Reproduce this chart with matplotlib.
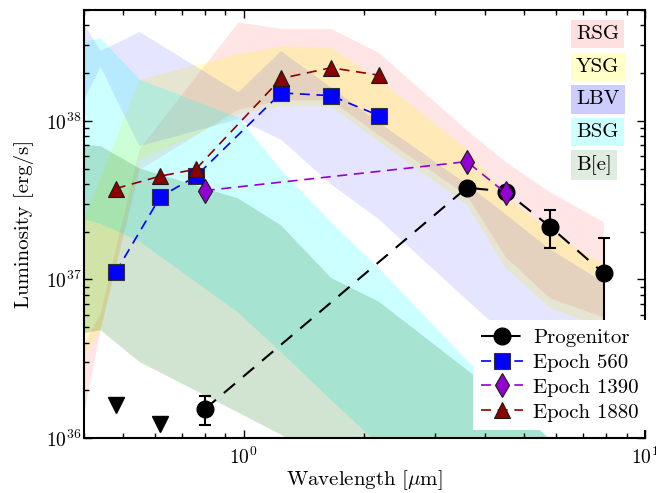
import numpy as np
import matplotlib
matplotlib.use('Agg')
from matplotlib import pyplot as plt

plt.rcParams['font.family'] = 'serif'
plt.rcParams['font.serif'] = ['cmr10']
plt.rcParams['mathtext.fontset'] = 'cm'
plt.rcParams['axes.formatter.use_mathtext'] = True
plt.rcParams['axes.unicode_minus'] = False

# photometry (wavelength in micron, luminosity in erg/s)
wl_epoch = [0.48, 0.62, 0.76, 1.24, 1.65, 2.17]
wl_prog = [0.80, 3.6, 4.5, 5.8, 7.9]
wl_1390 = [0.80, 3.6, 4.5]
wl_limit = [0.48, 0.62]

lum_prog = [1.52e36, 3.79e37, 3.58e37, 2.15e37, 1.09e37]
err_prog = [0.31e36, 0.0, 0.0, 0.58e37, 0.73e37]
lum_limit = [1.62e36, 1.23e36]
lum_560 = [1.11e37, 3.32e37, 4.46e37, 1.50e38, 1.44e38, 1.08e38]
lum_1390 = [3.63e37, 5.53e37, 3.50e37]
lum_1880 = [3.74e37, 4.48e37, 4.95e37, 1.85e38, 2.16e38, 1.94e38]

# SED ranges of comparison stars (log L)
wl_band = [0.40, 0.44, 0.55, 0.97, 1.24, 1.65, 2.17, 3.6, 4.5, 5.8, 7.9]
rsg_hi = [36.59, 36.78, 37.82, 38.62, 38.58, 38.58, 38.43, 37.94, 37.74, 37.55, 37.36]
rsg_lo = [36.15, 36.68, 37.69, 38.07, 38.13, 38.13, 37.91, 37.53, 37.14, 36.88, 36.76]
ysg_hi = [37.38, 37.64, 38.26, 38.42, 38.47, 38.46, 38.26, 37.82, 37.53, 37.30, 37.09]
ysg_lo = [36.52, 36.68, 37.75, 38.04, 38.09, 38.09, 37.87, 37.47, 37.07, 36.82, 36.69]
lbv_hi = [38.61, 38.44, 38.56, 38.18, 38.44, 38.21, 37.99, 37.60, 37.41, 37.19, 36.98]
lbv_lo = [38.13, 38.34, 37.84, 38.01, 37.88, 37.60, 37.38, 36.87, 36.65, 36.40, 36.11]
bsg_hi = [38.50, 38.52, 38.26, 38.02, 37.69, 37.36, 37.07, 36.49, 36.27, 35.99, 35.64]
bsg_lo = [37.38, 37.35, 37.24, 36.79, 36.54, 36.24, 35.96, 35.48, 35.23, 34.98, 34.66]
be_hi = [37.85, 37.84, 37.70, 37.51, 37.34, 37.01, 36.86, 36.43, 36.24, 35.99, 35.74]
be_lo = [36.66, 36.68, 36.48, 36.16, 36.02, 35.83, 35.64, 35.23, 35.04, 34.79, 34.47]

bands = [('RSG', rsg_lo, rsg_hi, 'red', 0.10, 0.12),
         ('YSG', ysg_lo, ysg_hi, 'yellow', 0.20, 0.22),
         ('LBV', lbv_lo, lbv_hi, 'blue', 0.10, 0.20),
         ('BSG', bsg_lo, bsg_hi, 'cyan', 0.20, 0.20),
         ('B[e]', be_lo, be_hi, 'darkgreen', 0.18, 0.12)]

fig = plt.figure(figsize=(6.56, 4.93), dpi=100)
ax = fig.add_axes([0.128, 0.1116, 0.8552, 0.8682])
ax.set_xscale('log')
ax.set_yscale('log')

for i, (name, lo, hi, col, a, a_box) in enumerate(bands):
    ax.fill_between(wl_band, 10**np.array(lo), 10**np.array(hi),
                    facecolor=col, alpha=a, linewidth=0, zorder=1)
    ax.text(0.877, 0.944 - i*0.0765, name, transform=ax.transAxes,
            ha='left', va='center', fontsize=15, zorder=5,
            bbox=dict(boxstyle='square,pad=0.25', fc=col, alpha=a_box, ec='none'))

ax.errorbar(wl_prog, lum_prog, yerr=err_prog, fmt='none', ecolor='k',
            elinewidth=1.5, capsize=4.5, capthick=1.5, zorder=3)
ax.plot(wl_prog, lum_prog, 'o', ls='--', dashes=(7, 5), color='k', lw=1.5,
        ms=12, mec='k', label='Progenitor', zorder=3)
ax.plot(wl_limit, lum_limit, 'v', ls='none', color='k', ms=12, zorder=3)
ax.plot(wl_epoch, lum_560, 's', ls='--', dashes=(6, 4), color='blue', lw=1.2,
        ms=11.5, mec='0.2', mew=0.8, label='Epoch 560', zorder=3)
ax.plot(wl_1390, lum_1390, 'd', ls='--', dashes=(6, 4), color='darkviolet', lw=1.2,
        ms=12, mec='0.1', mew=0.8, label='Epoch 1390', zorder=3)
ax.plot(wl_epoch, lum_1880, '^', ls='--', dashes=(6, 4), color='darkred', lw=1.2,
        ms=12, mec='0.1', mew=0.8, label='Epoch 1880', zorder=3)

ax.set_xlim(0.4, 10)
ax.set_ylim(1e36, 5e38)
ax.set_xlabel(r'Wavelength [$\mu$m]', fontsize=15, labelpad=0)
ax.set_ylabel('Luminosity [erg/s]', fontsize=15, labelpad=8)

for s in ax.spines.values():
    s.set_linewidth(1.5)
ax.tick_params(which='both', direction='in', top=True, right=True, labelsize=14)
ax.tick_params(which='major', length=6, width=1)
ax.tick_params(which='minor', length=3.5, width=1)
ax.tick_params(axis='y', pad=2)
ax.tick_params(axis='x', pad=6)

leg = ax.legend(loc='lower left', bbox_to_anchor=(0.693, 0.019), borderaxespad=0,
                fontsize=15, numpoints=1, fancybox=False, framealpha=1,
                handlelength=2.0, handletextpad=0.5, labelspacing=0.3)
leg.get_frame().set_edgecolor('none')
leg.set_zorder(6)

fig.savefig('out.png', dpi=100)
